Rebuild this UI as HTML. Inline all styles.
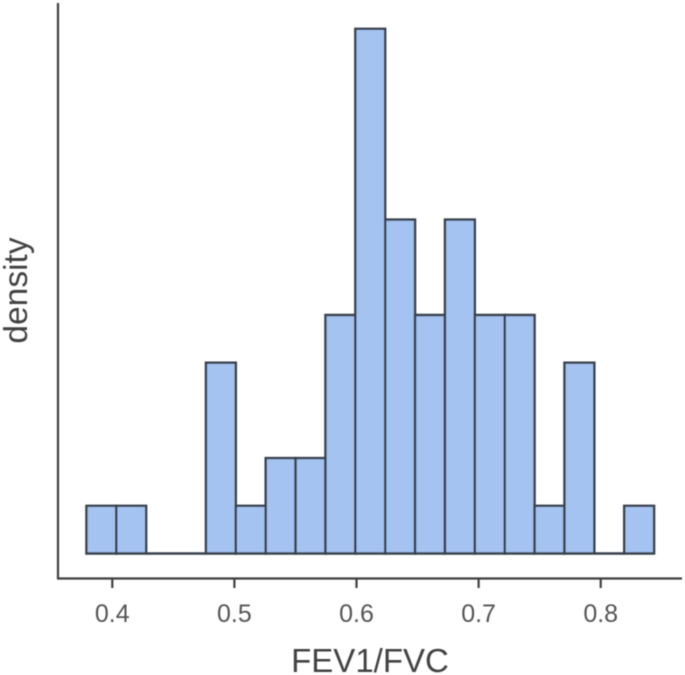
<!DOCTYPE html>
<html>
<head>
<meta charset="utf-8">
<title>FEV1/FVC histogram</title>
<style>
html,body{margin:0;padding:0;background:#fff;width:685px;height:675px;overflow:hidden}
svg{display:block;font-family:"Liberation Sans",sans-serif}
</style>
</head>
<body>
<svg id="chart" width="685" height="675" viewBox="0 0 685 675" xmlns="http://www.w3.org/2000/svg">
<defs><filter id="soft" filterUnits="userSpaceOnUse" x="0" y="0" width="685" height="675"><feGaussianBlur stdDeviation="0.6"/></filter></defs>
<g id="root" filter="url(#soft)"></g>
</svg>
<script>
const binCounts = [1, 1, 0, 0, 4, 1, 2, 2, 5, 11, 7, 5, 7, 5, 5, 1, 4, 0, 1];
const binStart = 0.3788;
const binWidth = 0.02447;
const xTicks = [0.4, 0.5, 0.6, 0.7, 0.8];
const xTickLabels = ["0.4", "0.5", "0.6", "0.7", "0.8"];
const xTitle = "FEV1/FVC";
const yTitle = "density";

const NS = "http://www.w3.org/2000/svg";
const root = document.getElementById("root");
const xScale = v => 112.3 + (v - 0.4) * 1221;
const yScale = c => 553.5 - c * 47.7;

function make(tag, attrs, text) {
  const el = document.createElementNS(NS, tag);
  for (const k in attrs) el.setAttribute(k, attrs[k]);
  if (text !== undefined) el.textContent = text;
  root.appendChild(el);
  return el;
}

binCounts.forEach((c, i) => {
  const x0 = xScale(binStart + i * binWidth);
  const x1 = xScale(binStart + (i + 1) * binWidth);
  const y = yScale(c);
  const b = yScale(0);
  const bar = make("path", {d: "M" + x0 + " " + b + "L" + x0 + " " + y + "L" + x1 + " " + y + "L" + x1 + " " + b + "Z", fill: "#a4c3f0", stroke: "#38404c", "stroke-width": 2.4});
  
  
});

const yAxis = make("line", {x1: 58, y1: 3, x2: 58, y2: 579, stroke: "#404040", "stroke-width": 2.2});



const xAxis = make("line", {x1: 57, y1: 578.5, x2: 682, y2: 578.5, stroke: "#404040", "stroke-width": 2.2});



xTicks.forEach((t, i) => {
  const x = xScale(t);
  const tick = make("line", {x1: x, y1: 579, x2: x, y2: 588, stroke: "#404040", "stroke-width": 2.2});
  
  
  const label = make("text", {x: x, y: 622, "text-anchor": "middle", "font-size": 25, fill: "#555555"}, xTickLabels[i]);
  
  
});

const xLabel = make("text", {x: 370, y: 672, "text-anchor": "middle", "font-size": 33, fill: "#434343"}, xTitle);



const yLabel = make("text", {x: 0, y: 0, transform: "translate(27 290.5) rotate(-90)", "text-anchor": "middle", "font-size": 33.5, fill: "#434343"}, yTitle);


</script>
</body>
</html>
